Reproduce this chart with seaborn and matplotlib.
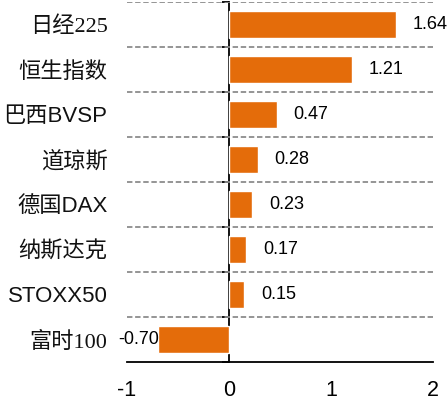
import seaborn as sns
import matplotlib.pyplot as plt
import numpy as np
import pandas as pd

names = ["日经225", "恒生指数", "巴西BVSP", "道琼斯", "德国DAX", "纳斯达克", "STOXX50", "富时100"]
values = [1.64, 1.21, 0.47, 0.28, 0.23, 0.17, 0.15, -0.70]
xticks = [-1, 0, 1, 2]

sns.set_style("white")
plt.rcParams['font.family'] = ['Liberation Sans', 'Noto Sans CJK SC']

df = pd.DataFrame({"name": names, "value": values})

fig = plt.figure(figsize=(4.48, 4.03), dpi=100)
ax = fig.add_axes([127 / 448, 1 - 362 / 403, 306 / 448, 360 / 403])

sns.barplot(data=df, x="value", y="name", orient="h", color="#E46C0A",
            saturation=1, width=0.62, ax=ax)

ax.set_xlim(-1, 2)
ax.set_ylim(7.5, -0.5)
ax.set_xticks(xticks)
ax.set_xticklabels([str(t) for t in xticks])
ax.set_xlabel("")
ax.set_ylabel("")

# dashed separators between categories
ax.set_yticks(np.arange(-0.5, len(names) - 1), minor=True)
ax.yaxis.grid(True, which="minor", color="#8c8c8c", linestyle=(0, (3, 1.5)), linewidth=1.3)
ax.xaxis.grid(False)
ax.yaxis.grid(False, which="major")

for s in ["top", "right", "left"]:
    ax.spines[s].set_visible(False)
ax.spines["bottom"].set_color("black")
ax.spines["bottom"].set_linewidth(1.3)

ax.tick_params(axis="y", which="both", length=0, pad=14, labelsize=16, labelcolor="#111111")
ax.tick_params(axis="x", direction="in", length=6, width=1.3, color="black",
               pad=13, labelsize=15.5, labelcolor="black")

for lab in ax.get_yticklabels():
    if lab.get_text() in ("日经225", "富时100"):
        lab.set_family(["Liberation Serif", "Noto Sans CJK SC"])

# zero axis with ticks at category boundaries
sec = ax.secondary_yaxis(1 / 3)
sec.set_yticks(np.arange(-0.5, len(names) + 0.5))
sec.tick_params(axis="y", direction="out", length=5, width=1.3, color="black", labelleft=False)
sec.spines["left"].set_color("black")
sec.spines["left"].set_linewidth(1.3)

for i, v in enumerate(values):
    if v >= 0:
        ax.annotate(f"{v:.2f}", (v, i), xytext=(12, 0), textcoords="offset points",
                    ha="left", va="center", fontsize=13, color="black")
    else:
        ax.annotate(f"{v:.2f}", (v, i), xytext=(1, 0), textcoords="offset points",
                    ha="right", va="center", fontsize=13, color="black")

fig.savefig("out.png", dpi=100)
